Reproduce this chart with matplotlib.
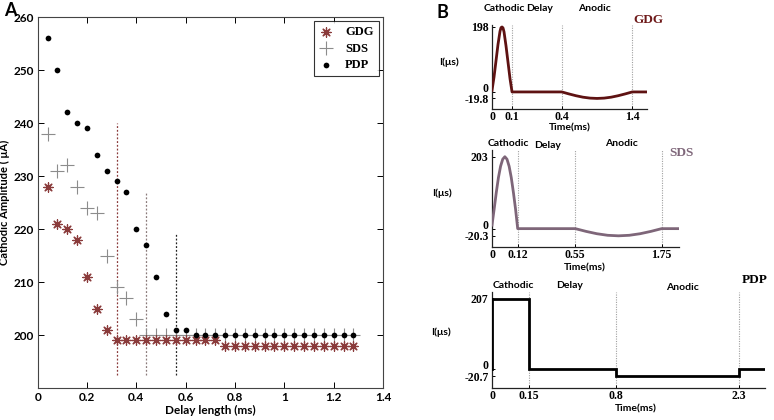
import numpy as np
import matplotlib
matplotlib.use('Agg')
import matplotlib.pyplot as plt

# ---------------- data: panel A ----------------
delay_ms = [0.04, 0.08, 0.12, 0.16, 0.20, 0.24, 0.28, 0.32, 0.36, 0.40, 0.44,
            0.48, 0.52, 0.56, 0.60, 0.64, 0.68, 0.72, 0.76, 0.80, 0.84, 0.88,
            0.92, 0.96, 1.00, 1.04, 1.08, 1.12, 1.16, 1.20, 1.24, 1.28]
gdg_amp = [228, 221, 220, 218, 211, 205, 201,
           199, 199, 199, 199, 199, 199, 199, 199, 199, 199, 199,
           198, 198, 198, 198, 198, 198, 198, 198, 198, 198, 198, 198, 198, 198]
sds_amp = [238, 231, 232, 228, 224, 223, 215, 209, 207, 203,
           200, 200, 200, 200, 200, 200, 200, 200, 200, 200, 200,
           200, 200, 200, 200, 200, 200, 200, 200, 200, 200, 200]
pdp_amp = [256, 250, 242, 240, 239, 234, 231, 229, 227, 220, 217, 211, 204, 201, 201,
           200, 200, 200, 200, 200, 200, 200, 200, 200, 200, 200, 200, 200, 200, 200, 200, 200]
xticks_A = [0, 0.2, 0.4, 0.6, 0.8, 1.0, 1.2, 1.4]
xticklabels_A = ['0', '0.2', '0.4', '0.6', '0.8', '1', '1.2', '1.4']
yticks_A = [200, 210, 220, 230, 240, 250, 260]
vline_x = [0.32, 0.44, 0.56]
vline_top = [240, 227, 219]
vline_bottom = 192.4

# ---------------- data: panel B waveforms ----------------
gdg_t = [0, 0.01, 0.02, 0.03, 0.04, 0.045, 0.05, 0.055, 0.06, 0.07, 0.08, 0.09, 0.1,
         0.4, 0.5, 0.6, 0.7, 0.8, 0.9, 1.0, 1.1, 1.2, 1.3, 1.4, 1.6]
gdg_i = [5, 45, 95, 145, 185, 196, 198, 195, 183, 140, 90, 40, 0,
         0, -6, -11.5, -16, -18.8, -19.8, -18.8, -16, -11.5, -6, 0, 0]
gdg_ticks = [0, 0.1, 0.4, 1.4]
gdg_yticks = [-19.8, 0, 198]

sds_t = [0, 0.01, 0.02, 0.03, 0.04, 0.05, 0.06, 0.07, 0.08, 0.09, 0.1, 0.11, 0.12,
         0.55, 0.7, 0.85, 1.0, 1.15, 1.3, 1.45, 1.6, 1.75, 1.95]
sds_i = [10, 55, 102, 144, 176, 196, 203, 196, 176, 144, 102, 55, 0,
         0, -7.8, -14.4, -18.8, -20.3, -18.8, -14.4, -7.8, 0, 0]
sds_ticks = [0, 0.12, 0.55, 1.75]
sds_yticks = [-20.3, 0, 203]

pdp_t = [0, 0.15, 0.8, 2.3, 2.6]
pdp_i = [207, 0, -20.7, 0, 0]
pdp_ticks = [0, 0.15, 0.8, 2.3]
pdp_yticks = [-20.7, 0, 207]

phase_names = ['Cathodic', 'Delay', 'Anodic']

W, H = 774, 420
fig = plt.figure(figsize=(W / 100, H / 100), dpi=100)


def px_axes(l, t, r, b):
    return fig.add_axes([l / W, 1 - b / H, (r - l) / W, (b - t) / H])


def ftext(x, y, s, **kw):
    fig.text(x / W, 1 - y / H, s, ha='center', va='center', **kw)


SANS = ['Lato', 'DejaVu Sans']
SERIF = ['Liberation Serif', 'DejaVu Serif']

# ---------------- panel A ----------------
axA = px_axes(37.7, 17, 383, 388)
axA.scatter(delay_ms, gdg_amp, marker=(8, 2, 0), s=45, color='#8a3b3b', linewidths=0.9, zorder=3, label='GDG')
axA.scatter(delay_ms, sds_amp, marker='+', s=90, color='#8c8c8c', linewidths=0.8, zorder=2, label='SDS')
axA.scatter(delay_ms, pdp_amp, marker='o', s=17, color='black', linewidths=0, zorder=4, label='PDP')
vcols = ['#8a3b3b', '#8a7a7a', '#222222']
for x, top, c in zip(vline_x, vline_top, vcols):
    axA.plot([x, x], [vline_bottom, top], ls=(0, (1.5, 1.5)), lw=0.9, color=c, zorder=1)
axA.set_xlim(0, 1.4)
axA.set_ylim(190, 260)
axA.set_xticks(xticks_A)
axA.set_xticklabels(xticklabels_A)
axA.set_yticks(yticks_A)
axA.tick_params(direction='in', top=True, right=True, length=4, width=0.7, pad=3, labelsize=8.5)
for lab in axA.get_xticklabels() + axA.get_yticklabels():
    lab.set_family(SANS)
    lab.set_fontweight('bold')
for sp in axA.spines.values():
    sp.set_linewidth(0.8)
    sp.set_color('#444444')
axA.set_xlabel('Delay length (ms)', family=SANS, fontweight='bold', fontsize=8.5, labelpad=1)
axA.set_ylabel('Cathodic Amplitude ( μA)', family=SANS, fontweight='bold', fontsize=8, labelpad=2)
leg = axA.legend(loc='upper right', prop={'family': SERIF, 'weight': 'bold', 'size': 9},
                 frameon=True, fancybox=False, edgecolor='black', borderaxespad=0.35,
                 handletextpad=0.9, handlelength=1.2, labelspacing=0.35, borderpad=0.4)
leg.get_frame().set_linewidth(0.8)

ftext(10, 11, 'A', family=SANS, fontweight='bold', fontsize=13)
ftext(442, 12, 'B', family=SANS, fontweight='bold', fontsize=13)


# ---------------- panel B ----------------
def piecewise(src, dst):
    src = np.asarray(src, float)
    dst = np.asarray(dst, float)

    def _map(x, a, b):
        x = np.asarray(x, float)
        y = np.interp(x, a, b)
        s0 = (b[1] - b[0]) / (a[1] - a[0])
        s1 = (b[-1] - b[-2]) / (a[-1] - a[-2])
        y = np.where(x < a[0], b[0] + (x - a[0]) * s0, y)
        y = np.where(x > a[-1], b[-1] + (x - a[-1]) * s1, y)
        return y

    return (lambda x: _map(x, src, dst)), (lambda x: _map(x, dst, src))


panels = [
    dict(t=gdg_t, i=gdg_i, ticks=gdg_ticks, yticks=gdg_yticks, name='GDG',
         color='#5e1212', lcolor='#6e1a1a', xlim=(0, 1.6), ylim=(-52, 204),
         bt=[0, 0.1, 0.4, 1.4, 1.6], bp=[0, 20, 69.7, 140, 154.4],
         box=(492, 25, 646.7, 109), step=False,
         phase_xy=[(504, 8.5), (540, 8.5), (594, 8.5)], name_xy=(648, 20),
         ylab_xy=(449, 62), xlab_xy=(570, 128)),
    dict(t=sds_t, i=sds_i, ticks=sds_ticks, yticks=sds_yticks, name='SDS',
         color='#7e6679', lcolor='#7e6679', xlim=(0, 1.95), ylim=(-51, 222),
         bt=[0, 0.12, 0.55, 1.75, 1.95], bp=[0, 25.6, 83, 169, 186.3],
         box=(492, 150, 679, 246.7), step=False,
         phase_xy=[(508, 144), (548, 145), (621, 143.5)], name_xy=(681, 153),
         ylab_xy=(442, 193), xlab_xy=(585, 268)),
    dict(t=pdp_t, i=pdp_i, ticks=pdp_ticks, yticks=pdp_yticks, name='PDP',
         color='black', lcolor='black', xlim=(0, 2.6), ylim=(-53.6, 228),
         bt=[0, 0.15, 0.8, 2.3, 2.6], bp=[0, 37.3, 124, 247.3, 273.3],
         box=(492, 291.7, 765, 387.7), step=True,
         phase_xy=[(513, 285), (570, 285), (682, 287)], name_xy=(755, 280),
         ylab_xy=(441, 332), xlab_xy=(636, 409)),
]

for p in panels:
    ax = px_axes(*p['box'])
    f, g = piecewise(p['bt'], p['bp'])
    ax.set_xscale('function', functions=(f, g))
    if p['step']:
        ax.plot(p['t'], p['i'], drawstyle='steps-post', color=p['color'], lw=2.0,
                solid_joinstyle='miter', zorder=3)
        ax.plot([p['t'][0], p['t'][0]], [0, p['i'][0]], color=p['color'], lw=2.0, zorder=3)
    else:
        ax.plot(p['t'], p['i'], color=p['color'], lw=2.0, zorder=3)
    for x in p['ticks'][1:]:
        ax.axvline(x, color='#a0a0a0', ls=(0, (1, 1.2)), lw=0.8, zorder=1)
    ax.set_xlim(*p['xlim'])
    ax.set_ylim(*p['ylim'])
    ax.set_xticks(p['ticks'])
    ax.set_xticklabels([('%g' % v) for v in p['ticks']])
    ax.set_yticks(p['yticks'])
    ax.set_yticklabels([('%g' % v) for v in p['yticks']])
    ax.minorticks_off()
    ax.tick_params(direction='in', length=2.5, width=0.7, pad=2.5, labelsize=8.5)
    ax.tick_params(axis='x', pad=1.8)
    for lab in ax.get_xticklabels() + ax.get_yticklabels():
        lab.set_family(SERIF)
        lab.set_fontweight('bold')
    for lab in ax.get_yticklabels():
        if lab.get_text() == '0':
            lab.set_va('baseline')
    for s in ['top', 'right']:
        ax.spines[s].set_visible(False)
    for s in ['left', 'bottom']:
        ax.spines[s].set_linewidth(0.9)
        ax.spines[s].set_color('#222222')
    for (x, y), nm in zip(p['phase_xy'], phase_names):
        ftext(x, y, nm, family=SANS, fontweight='bold', fontsize=7.5)
    ftext(*p['name_xy'], p['name'], family=SERIF, fontweight='bold', fontsize=9.5, color=p['lcolor'])
    ftext(*p['ylab_xy'], 'I(μs)', family=SANS, fontweight='bold', fontsize=7.5)
    ftext(*p['xlab_xy'], 'Time(ms)', family=SANS, fontweight='bold', fontsize=7.5)

fig.savefig('out.png', dpi=100, facecolor='white')
